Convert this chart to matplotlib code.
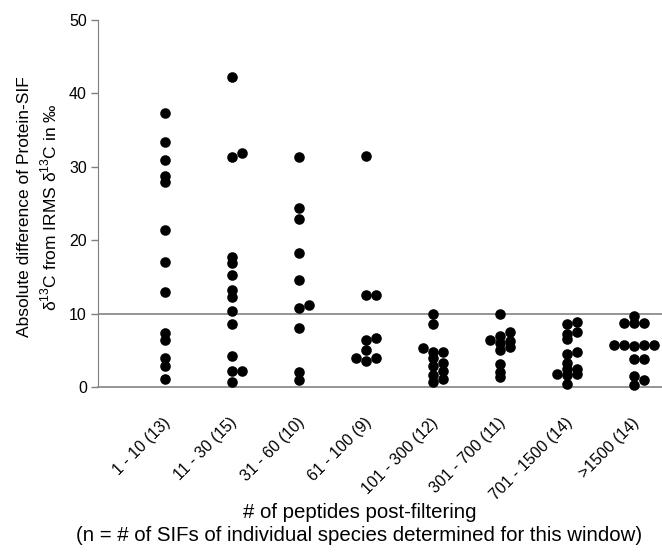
import matplotlib.pyplot as plt
import numpy as np
from matplotlib.transforms import ScaledTranslation

plt.rcParams['font.family'] = ['Liberation Sans', 'DejaVu Sans']
plt.rcParams['mathtext.fontset'] = 'custom'
plt.rcParams['mathtext.rm'] = 'Liberation Sans'

categories = ['1 - 10 (13)', '11 - 30 (15)', '31 - 60 (10)', '61 - 100 (9)',
              '101 - 300 (12)', '301 - 700 (11)', '701 - 1500 (14)', '>1500 (14)']

# absolute difference per window
win_1_10 = [37.3, 33.4, 30.9, 28.7, 27.9, 21.4, 17.0, 12.9, 7.35, 6.4, 3.95, 2.9, 1.1]
win_11_30 = [42.2, 31.8, 31.3, 17.75, 16.85, 15.25, 13.2, 12.2, 10.4, 8.6, 4.2, 2.2, 2.2, 0.7]
win_31_60 = [31.3, 24.4, 22.9, 18.2, 14.5, 11.2, 10.7, 8.0, 2.1, 1.0]
win_61_100 = [31.4, 12.5, 12.5, 6.6, 6.4, 5.0, 4.0, 4.0, 3.6]
win_101_300 = [10.0, 8.6, 5.3, 4.7, 4.7, 4.0, 3.2, 2.9, 2.2, 1.6, 1.05, 0.7]
win_301_700 = [10.0, 7.45, 7.0, 6.4, 6.2, 5.95, 5.5, 5.0, 3.1, 2.1, 1.3]
win_701_1500 = [8.9, 8.6, 7.45, 7.2, 6.5, 4.8, 4.45, 3.3, 2.5, 2.5, 1.8, 1.8, 1.6, 0.4]
win_gt_1500 = [9.7, 8.75, 8.75, 8.75, 5.7, 5.7, 5.7, 5.7, 5.6, 3.8, 3.8, 1.5, 0.95, 0.3]

all_windows = [win_1_10, win_11_30, win_31_60, win_61_100,
               win_101_300, win_301_700, win_701_1500, win_gt_1500]


def swarm_offsets(vals, ax, step_px=10.0, dy_px=5.0):
    """Simple column scatter: push a point sideways when it would hit a placed one."""
    to_px = ax.transData.transform
    x0 = to_px((0, 0))[0]
    px_per_x = to_px((1, 0))[0] - x0
    ys = [to_px((0, v))[1] for v in vals]
    order = np.argsort(vals, kind='stable')
    placed = []
    offs = np.zeros(len(vals))
    for i in order:
        k = 0
        while True:
            if k == 0:
                cand = 0.0
            else:
                cand = ((k + 1) // 2) * step_px * (1 if k % 2 == 1 else -1)
            hit = False
            for (px, py) in placed:
                if ((cand - px) / step_px) ** 2 + ((ys[i] - py) / dy_px) ** 2 < 0.98:
                    hit = True
                    break
            if not hit:
                break
            k += 1
        placed.append((cand, ys[i]))
        offs[i] = cand / px_per_x
    return offs


fig = plt.figure(figsize=(6.62, 5.52), dpi=100)
ax = fig.add_axes([0.148, 0.299, 0.852, 0.665])
ax.set_xlim(-1, 7.42)
ax.set_ylim(0, 50)

for i, vals in enumerate(all_windows):
    offs = swarm_offsets(vals, ax)
    ax.scatter(i + offs, vals, s=58, color='black', linewidths=0, zorder=3, clip_on=False)

ax.axhline(10, color='#8c8c8c', lw=1.3, zorder=1)

for side in ['top', 'right']:
    ax.spines[side].set_visible(False)
ax.spines['left'].set_color('#7f7f7f')
ax.spines['bottom'].set_color('#8c8c8c')
ax.spines['bottom'].set_linewidth(1.3)

ax.set_yticks([0, 10, 20, 30, 40, 50])
ax.tick_params(axis='y', direction='out', length=5, width=1, color='#7f7f7f',
               labelsize=11.5, pad=3)
ax.set_xticks(range(len(categories)))
ax.set_xticklabels(categories, rotation=45, ha='right', va='center',
                   rotation_mode='anchor', fontsize=11.5)
ax.tick_params(axis='x', length=0, pad=24)
shift = ScaledTranslation(3 / 100, 0, fig.dpi_scale_trans)
for lab in ax.get_xticklabels():
    lab.set_transform(lab.get_transform() + shift)

fig.text(0.058, 0.625, 'Absolute difference of Protein-SIF\n'
         'δ$^{\\mathregular{13}}$C from IRMS δ$^{\\mathregular{13}}$C in ‰',
         rotation=90, ha='center', va='center', fontsize=12.5, linespacing=1.4)

fig.text(0.543, 0.051, '# of peptides post-filtering\n'
         '(n = # of SIFs of individual species determined for this window)',
         ha='center', va='center', fontsize=14.7, linespacing=1.3)

plt.savefig('out.png', dpi=100)
